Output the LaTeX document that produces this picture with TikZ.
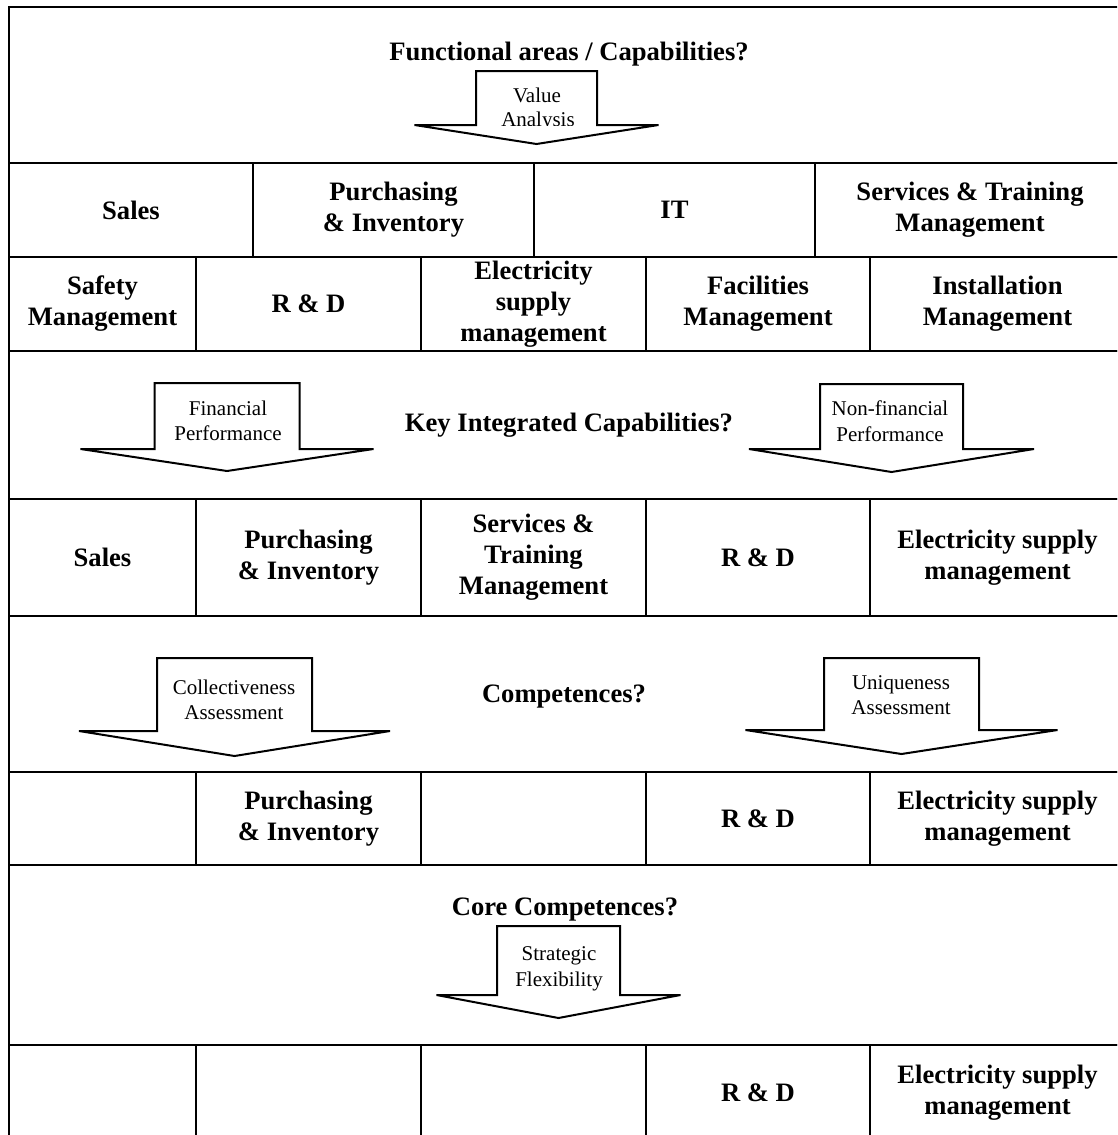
\documentclass[tikz,border=0pt]{standalone}
\usepackage{fontspec}
\setmainfont{Liberation Serif}

% block arrow: centre x, top y, stem half width, head half width, shoulder y, tip y
\newcommand\blockarrow[6]{%
  \draw[barrow] (#1-#3,#2) -- (#1+#3,#2) -- (#1+#3,#5) -- (#1+#4,#5)
    -- (#1,#6) -- (#1-#4,#5) -- (#1-#3,#5) -- cycle;}

\begin{document}
\begin{tikzpicture}[x=1pt,y=-1pt,
  frame/.style={draw, line width=2pt, inner sep=0pt, outer sep=0pt},
  cell/.style={frame, align=center, font=\bfseries\fontsize{26.6}{31}\selectfont},
  question/.style={inner sep=0pt, font=\bfseries\fontsize{26.6}{31}\selectfont},
  barrow/.style={draw, fill=white, line width=2pt, line join=miter},
  arrlabel/.style={align=center, inner sep=0pt, font=\fontsize{21}{25.5}\selectfont},
]
\useasboundingbox (0,0) rectangle (1117,1135);
\clip (0,0) rectangle (1117,1135);

% bands holding the questions
\node[frame, minimum width=1116, minimum height=156] (band1) at (567,85) {};
\node[frame, minimum width=1116, minimum height=148] (band2) at (567,425) {};
\node[frame, minimum width=1116, minimum height=156] (band3) at (567,694) {};
\node[frame, minimum width=1116, minimum height=180] (band4) at (567,955) {};

% functional areas, first row
\node[cell, minimum width=244, minimum height=94] (a1) at (131,210) {Sales};
\node[cell, minimum width=281, minimum height=94] (a2) at (393.5,210) {Purchasing\\\& Inventory};
\node[cell, minimum width=281, minimum height=94] (a3) at (674.5,210) {IT};
\node[cell, minimum width=310, minimum height=94] (a4) at (970,210) {Services \& Training\\Management};

% functional areas, second row
\node[cell, minimum width=187, minimum height=94] (b1) at (102.5,304) {Safety\\Management};
\node[cell, minimum width=225, minimum height=94] (b2) at (308.5,304) {R \& D};
\node[cell, minimum width=225, minimum height=94] (b3) at (533.5,304) {Electricity\\supply\\management};
\node[cell, minimum width=224, minimum height=94] (b4) at (758,304) {Facilities\\Management};
\node[cell, minimum width=255, minimum height=94] (b5) at (997.5,304) {Installation\\Management};

% key integrated capabilities
\node[cell, minimum width=187, minimum height=117] (c1) at (102.5,557.5) {Sales};
\node[cell, minimum width=225, minimum height=117] (c2) at (308.5,557.5) {Purchasing\\\& Inventory};
\node[cell, minimum width=225, minimum height=117] (c3) at (533.5,557.5) {Services \&\\Training\\Management};
\node[cell, minimum width=224, minimum height=117] (c4) at (758,557.5) {R \& D};
\node[cell, minimum width=255, minimum height=117] (c5) at (997.5,557.5) {Electricity supply\\management};

% competences
\node[cell, minimum width=187, minimum height=93] (d1) at (102.5,818.5) {};
\node[cell, minimum width=225, minimum height=93] (d2) at (308.5,818.5) {Purchasing\\\& Inventory};
\node[cell, minimum width=225, minimum height=93] (d3) at (533.5,818.5) {};
\node[cell, minimum width=224, minimum height=93] (d4) at (758,818.5) {R \& D};
\node[cell, minimum width=255, minimum height=93] (d5) at (997.5,818.5) {Electricity supply\\management};

% core competences
\node[cell, minimum width=187, minimum height=95] (e1) at (102.5,1092.5) {};
\node[cell, minimum width=225, minimum height=95] (e2) at (308.5,1092.5) {};
\node[cell, minimum width=225, minimum height=95] (e3) at (533.5,1092.5) {};
\node[cell, minimum width=224, minimum height=95] (e4) at (758,1092.5) {R \& D};
\node[cell, minimum width=255, minimum height=95] (e5) at (997.5,1092.5) {Electricity supply\\management};

% questions
\node[question] (q1) at (569,54) {Functional areas / Capabilities?};
\node[question] (q2) at (569,425) {Key Integrated Capabilities?};
\node[question] (q3) at (564,697) {Competences?};
\node[question] (q4) at (565,910) {Core Competences?};

% assessment arrows
\blockarrow{536.5}{71}{60.5}{122}{125}{144}
\blockarrow{227}{383}{72.5}{146.5}{449}{471}
\blockarrow{891.5}{384}{71.5}{142.5}{449}{472}
\blockarrow{234.5}{658}{77.5}{155.5}{731}{756}
\blockarrow{901.5}{658}{77.5}{156}{730}{754}
\blockarrow{558.5}{926}{61.5}{122}{995}{1018}

% arrow labels; the lower line of the first one sits on the arrow head
\node[arrlabel, anchor=base] (va1) at (537,102) {Value};
\begin{scope}
  \clip (478,100) rectangle (596,125);
  \node[arrlabel, anchor=base] (va2) at (538,126) {Analysis};
\end{scope}
\node[arrlabel] (fp) at (228,421) {Financial\\Performance};
\node[arrlabel] (nfp) at (890,421) {Non-financial\\Performance};
\node[arrlabel] (ca) at (234,700) {Collectiveness\\Assessment};
\node[arrlabel] (ua) at (901,695) {Uniqueness\\Assessment};
\node[arrlabel, anchor=base] (sf1) at (559,960) {Strategic};
\node[arrlabel, anchor=base] (sf2) at (559,986) {Flexibility};
\end{tikzpicture}
\end{document}
